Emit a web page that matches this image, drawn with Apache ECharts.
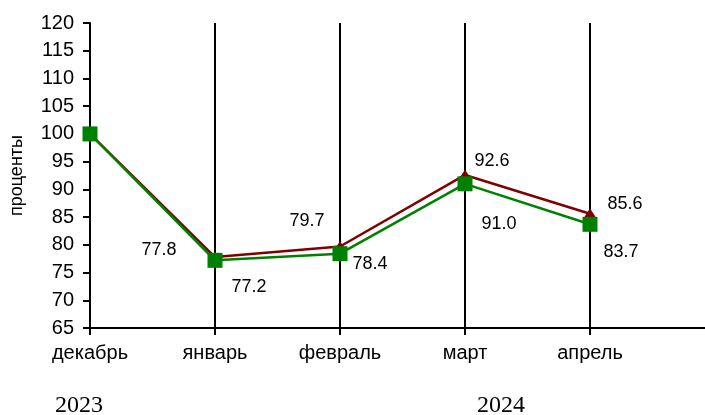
<!DOCTYPE html>
<html><head><meta charset="utf-8">
<script src="https://cdn.jsdelivr.net/npm/echarts@6/dist/echarts.min.js"></script>
<style>html,body{margin:0;padding:0;background:#fff;overflow:hidden;width:705px;height:415px}#c{width:720px;height:415px}</style>
</head><body><div id="c"></div>
<script>
const categories = ['декабрь', 'январь', 'февраль', 'март', 'апрель', ''];
const seriesRed = [100, 77.8, 79.7, 92.6, 85.6];
const seriesGreen = [100, 77.2, 78.4, 91.0, 83.7];
const yTicks = { min: 65, max: 120, interval: 5 };
const yearLabels = ['2023', '2024'];

const redOffsets = [null, [-56, -7], [-33, -25], [27, -14], [35, -10]];
const greenOffsets = [null, [34, 27], [30, 10], [34, 40], [31, 28]];

function mk(vals, offs) {
  return vals.map((v, i) => ({
    value: v,
    label: offs[i] ? { show: true, position: 'inside', offset: offs[i] } : { show: false }
  }));
}

const lbl = {
  color: '#000', fontSize: 18, fontFamily: 'Liberation Sans, Arial', align: 'center', verticalAlign: 'middle',
  formatter: p => Number(p.value).toFixed(1)
};

const chart = echarts.init(document.getElementById('c'));
chart.setOption({
  animation: false,
  grid: { left: 89, right: 5, top: 23, bottom: 87, containLabel: false },
  xAxis: {
    type: 'category', data: categories, boundaryGap: false,
    axisLine: { lineStyle: { color: '#000', width: 2 } },
    axisTick: { show: true, length: 7, lineStyle: { color: '#000', width: 2 } },
    axisLabel: { color: '#000', fontSize: 20, fontFamily: 'Liberation Sans, Arial', margin: 15 },
    splitLine: { show: true, lineStyle: { color: '#000', width: 2 } }
  },
  yAxis: {
    type: 'value', min: yTicks.min, max: yTicks.max, interval: yTicks.interval,
    name: 'проценты', nameLocation: 'middle', nameRotate: 90, nameGap: 64,
    nameTextStyle: { color: '#000', fontSize: 18, fontFamily: 'Liberation Sans, Arial' },
    axisLine: { show: true, lineStyle: { color: '#000', width: 2 } },
    axisTick: { show: true, length: 7, lineStyle: { color: '#000', width: 2 } },
    axisLabel: { color: '#000', fontSize: 20, fontFamily: 'Liberation Sans, Arial', margin: 16 },
    splitLine: { show: false }
  },
  series: [
    {
      type: 'line', data: mk(seriesRed, redOffsets), symbol: 'triangle', symbolSize: [14, 11],
      itemStyle: { color: '#800000' }, lineStyle: { color: '#800000', width: 2.5 },
      label: lbl, z: 2
    },
    {
      type: 'line', data: mk(seriesGreen, greenOffsets), symbol: 'rect', symbolSize: 15,
      itemStyle: { color: '#008000' }, lineStyle: { color: '#008000', width: 2.5 },
      label: lbl, z: 3
    }
  ],
  graphic: [
    { type: 'text', left: 55, top: 394, style: { text: yearLabels[0], fill: '#000', font: '24px "Liberation Serif", "Times New Roman", serif' } },
    { type: 'text', left: 477, top: 394, style: { text: yearLabels[1], fill: '#000', font: '24px "Liberation Serif", "Times New Roman", serif' } }
  ]
});
</script>
</body></html>
